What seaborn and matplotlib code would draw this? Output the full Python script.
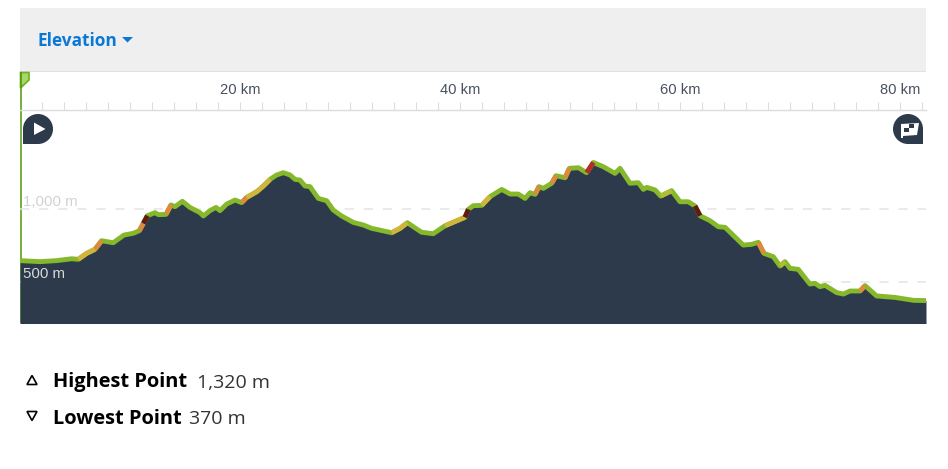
import matplotlib
matplotlib.use("Agg")
import matplotlib.pyplot as plt
import pandas as pd
import seaborn as sns
from matplotlib.patches import Circle, Polygon, Rectangle

# ---- data ----
distance_km = [
    0, 1.82, 3.33, 4.70, 5.30, 6.06, 6.82, 7.42, 8.48, 9.45, 10.30, 10.85, 11.21, 11.58, 12.27, 12.58,
    13.27, 13.73, 14.09, 14.76, 15.45, 16.36, 16.67, 17.27, 17.82, 18.18, 18.79, 19.55, 20.15, 20.61,
    21.52, 22.12, 22.73, 23.33, 23.94, 24.55, 25.0, 25.45, 25.91, 26.36, 27.12, 27.88, 28.48, 29.24,
    30.30, 31.21, 31.97, 33.79, 34.55, 35.21, 36.51, 37.57, 38.64, 40.45, 40.76, 41.21, 41.97, 42.73,
    43.79, 44.55, 45.30, 45.91, 46.36, 46.82, 47.18, 47.57, 48.33, 48.73, 49.55, 49.94, 50.76, 51.51,
    52.12, 53.03, 54.09, 54.55, 55.45, 56.21, 56.67, 56.97, 57.73, 58.24, 59.24, 60.0, 60.75, 61.36,
    61.82, 62.72, 63.48, 64.09, 65.75, 66.51, 67.12, 67.63, 68.48, 69.09, 69.54, 70.0, 70.75, 71.81,
    72.27, 72.72, 73.18, 74.24, 74.85, 75.45, 76.36, 76.82, 77.87, 79.54, 81.21, 82.36,
]
elevation_m = [
    645, 638, 645, 658, 654, 695, 723, 782, 768, 821, 833, 851, 901, 954, 975, 961,
    963, 1028, 1016, 1053, 1011, 975, 952, 989, 1011, 989, 1034, 1062, 1044, 1080,
    1119, 1158, 1204, 1234, 1250, 1234, 1204, 1199, 1158, 1154, 1073, 1057, 993, 952,
    908, 890, 867, 837, 867, 906, 840, 830, 885, 943, 998, 1023, 1025, 1085,
    1135, 1103, 1103, 1073, 1112, 1101, 1154, 1142, 1177, 1229, 1215, 1280, 1284, 1250,
    1320, 1291, 1245, 1280, 1177, 1181, 1135, 1149, 1131, 1089, 1126, 1050, 1050, 1021,
    954, 920, 878, 874, 752, 757, 771, 695, 672, 608, 638, 592, 585, 484,
    489, 466, 475, 425, 415, 436, 436, 473, 402, 392, 372, 370,
]
steep_start_km = [5.30, 6.82, 10.85, 11.21, 13.27, 20.15, 20.61, 33.79, 38.64, 40.45, 41.97,
                  46.82, 48.33, 49.55, 51.51, 58.24, 61.36, 67.12, 69.09, 76.36]
steep_end_km = [6.82, 7.42, 11.21, 11.58, 13.73, 20.61, 22.73, 35.21, 40.45, 40.76, 42.73,
                47.18, 48.73, 49.94, 52.12, 59.24, 61.82, 67.63, 69.54, 76.82]
steep_grade = ["mild", "hard", "hard", "extreme", "hard", "hard", "mild", "mild", "mild", "extreme", "mild",
               "hard", "hard", "hard", "severe", "slight", "extreme", "hard", "slight", "hard"]
grade_colors = {"slight": "#b0bd38", "mild": "#d0b53c", "hard": "#dc8a3c",
                "severe": "#b52c28", "extreme": "#5e1c12"}
grid_levels = [500, 1000]
grid_labels = ["500 m", "1,000 m"]
major_km = [20, 40, 60, 80]
minor_km = [k for k in range(2, 83, 2) if k not in major_km]

W, H = 948, 469
NAVY = "#2d3a4b"
GREEN = "#86b82b"

sns.set_theme(style="white")
plt.rcParams["font.family"] = ["Liberation Sans", "DejaVu Sans"]

df = pd.DataFrame({"km": distance_km, "m": elevation_m})
fig = plt.figure(figsize=(W / 100, H / 100), dpi=100, facecolor="white")

# ---- page furniture in pixel coordinates ----
bg = fig.add_axes([0, 0, 1, 1], zorder=0)
bg.set_xlim(0, W)
bg.set_ylim(H, 0)
bg.axis("off")
bg.add_patch(Rectangle((20, 8), 906, 63, fc="#efefef", ec="none"))
bg.add_patch(Rectangle((20, 71), 906, 1.2, fc="#e2e2e2", ec="none"))
bg.text(38, 41, "Elevation", color="#0a78d6", fontsize=12.4, fontweight="bold",
        family="Open Sans", va="center", ha="left")
bg.add_patch(Polygon([(122, 37), (133, 37), (127.5, 42.5)], fc="#0a78d6", ec="none"))

# start marker and vertical line
bg.plot([20.6, 20.6], [72, 323], color="#4f9a08", lw=1.1, solid_capstyle="butt")
bg.add_patch(Polygon([(20.5, 72.5), (29, 72.5), (29, 80), (20.5, 88)], fc="#a9d46e", ec="#6fb01c", lw=1.2))

# play icon
bg.add_patch(Circle((38, 129), 15, fc=NAVY, ec="none"))
bg.add_patch(Rectangle((23, 129), 15, 15, fc=NAVY, ec="none"))
bg.add_patch(Polygon([(34, 122.5), (34, 135), (45.5, 129)], fc="white", ec="none"))

# finish icon
bg.add_patch(Circle((908, 129), 15, fc=NAVY, ec="none"))
bg.add_patch(Rectangle((908, 129), 15, 15, fc=NAVY, ec="none"))
bg.add_patch(Polygon([(901, 124), (919, 123), (917, 135), (903, 136), (903, 138), (901, 138)], fc="white", ec="none"))
bg.add_patch(Rectangle((904.5, 128), 5, 4, fc=NAVY, ec="none"))
bg.add_patch(Rectangle((909.5, 124), 5, 4, fc=NAVY, ec="none"))

# summary
bg.add_patch(Polygon([(27, 384.5), (37, 384.5), (32, 375.5)], fc="white", ec="black", lw=1.2))
bg.add_patch(Polygon([(27, 411.5), (37, 411.5), (32, 420.5)], fc="white", ec="black", lw=1.2))
bg.text(53.5, 382.5, "Highest Point", fontsize=14.4, fontweight="bold", color="black",
        family="Open Sans", va="center")
bg.text(197, 382.5, "1,320 m", fontsize=14, color="#333333", family="Open Sans", va="center")
bg.text(53.5, 418.5, "Lowest Point", fontsize=14.4, fontweight="bold", color="black",
        family="Open Sans", va="center")
bg.text(189, 418.5, "370 m", fontsize=14, color="#333333", family="Open Sans", va="center")

# ---- profile ----
ax = fig.add_axes([20 / W, (H - 323) / H, 906 / W, 213 / H], zorder=1)
ax.patch.set_alpha(0)
ax.set_xlim(0, 82.36)
ax.set_ylim(216, 1681)

ax.fill_between(df["km"], df["m"], 0, color=NAVY, lw=0, zorder=2)
sns.lineplot(data=df, x="km", y="m", ax=ax, color=GREEN, lw=3.5, estimator=None, sort=False,
             legend=False, zorder=3, solid_joinstyle="round")
for start, end, grade in zip(steep_start_km, steep_end_km, steep_grade):
    part = df[(df["km"] >= start) & (df["km"] <= end)]
    sns.lineplot(data=part, x="km", y="m", ax=ax, color=grade_colors[grade], lw=3.5, estimator=None,
                 sort=False, legend=False, zorder=4, solid_capstyle="butt")

ax.set_yticks(grid_levels)
ax.set_yticklabels([])
ax.tick_params(axis="y", length=0)
ax.set_axisbelow(True)
ax.yaxis.grid(True, color="#e4e4e4", lw=1.1, ls=(0, (6, 6.5)))
ax.xaxis.grid(False)
for level, label, colour in zip(grid_levels, grid_labels, ["#d8d8d8", "#d2d2d2"]):
    ax.text(3 / 906, level + 2, label, transform=ax.get_yaxis_transform(), color=colour,
            fontsize=10.8, va="bottom", ha="left", zorder=5)

ax.set_xticks(major_km)
ax.set_xticks(minor_km, minor=True)
ax.set_xticklabels([f"{k} km" for k in major_km])
ax.xaxis.tick_top()
ax.tick_params(axis="x", which="both", top=True, bottom=False, direction="out", length=5.8,
               width=0.8, color="#dcdcdc", labelsize=10.6, labelcolor="#48505f", pad=3.4)
ax.set_xlabel("")
ax.set_ylabel("")
for side in ["left", "right", "bottom"]:
    ax.spines[side].set_visible(False)
ax.spines["top"].set_color("#dcdcdc")
ax.spines["top"].set_linewidth(1)

fig.savefig("out.png", dpi=100)
